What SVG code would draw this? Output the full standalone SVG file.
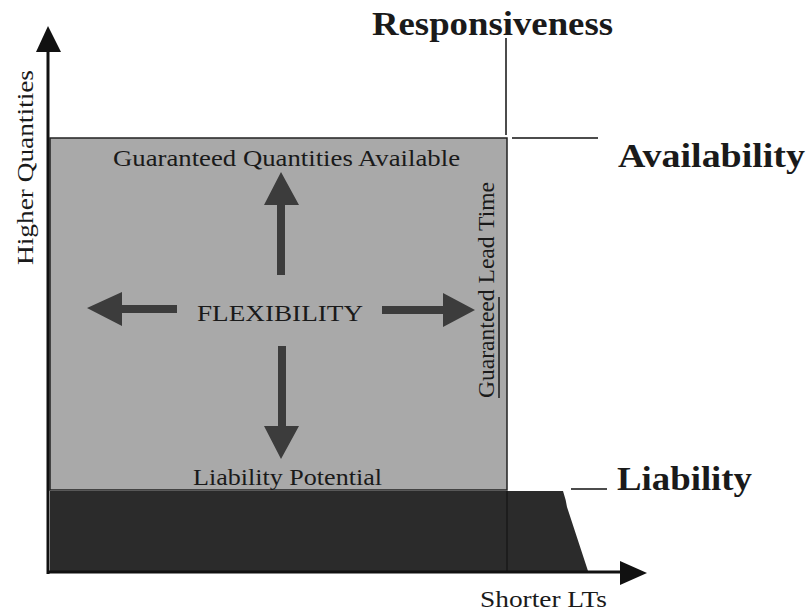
<svg xmlns="http://www.w3.org/2000/svg" width="809" height="613" viewBox="0 0 809 613">
<style>
.t{font-family:"Liberation Serif","Times New Roman",serif;fill:#1a1a1a}
.b{font-weight:bold;font-size:33px}
.r{font-size:24px}
.axis{stroke:#111;stroke-width:3;fill:none}
.thin{stroke:#111;stroke-width:1.5;fill:none}
.arr{fill:#3c3c3c}
</style>
<rect width="809" height="613" fill="#fff"/>
<g id="liability-region">
<path d="M50,491 L563,491 Q566,500 567,507 L588,571 L50,571 Z" fill="#2b2b2b"/>
<line x1="507" y1="491" x2="507" y2="571" stroke="#1a1a1a" stroke-width="1.5"/>
</g>
<g id="flexibility-region">
<rect x="50" y="138" width="457" height="352" fill="#a9a9a9" stroke="#222" stroke-width="1.5"/>
</g>
<g id="axes">
<line class="axis" x1="48" y1="50" x2="48" y2="574"/>
<polygon points="48,26 36,52 61,52" fill="#111"/>
<line class="axis" x1="47" y1="572" x2="622" y2="572"/>
<polygon points="647,573 620,561 620,585" fill="#111"/>
</g>
<g id="connectors">
<line class="thin" x1="506" y1="38" x2="506" y2="135"/>
<line class="thin" x1="512" y1="138" x2="598" y2="138"/>
<line class="thin" x1="571" y1="489" x2="607" y2="489"/>
<path class="arr" d="M277,275 L277,205 L264,205 L281,172 L299,205 L285,205 L285,275 Z"/>
<path class="arr" d="M278,346 L278,426 L264,426 L281,459 L299,426 L286,426 L286,346 Z"/>
<path class="arr" d="M177,305 L122,305 L122,292 L87,308 L122,326 L122,313 L177,313 Z"/>
<path class="arr" d="M382,306 L443,306 L443,293 L475,310 L443,327 L443,314 L382,314 Z"/>
</g>
<g id="responsiveness"><text class="t b" x="372" y="35" textLength="241" lengthAdjust="spacingAndGlyphs">Responsiveness</text></g>
<g id="availability"><text class="t b" x="618" y="167" textLength="187" lengthAdjust="spacingAndGlyphs">Availability</text></g>
<g id="liability"><text class="t b" x="617" y="490" textLength="135" lengthAdjust="spacingAndGlyphs">Liability</text></g>
<g id="guaranteed-quantities"><text class="t r" x="113" y="166" textLength="347" lengthAdjust="spacingAndGlyphs">Guaranteed Quantities Available</text></g>
<g id="flexibility"><text class="t r" x="197" y="321" textLength="166" lengthAdjust="spacingAndGlyphs">FLEXIBILITY</text></g>
<g id="liability-potential"><text class="t r" x="193" y="485" textLength="189" lengthAdjust="spacingAndGlyphs">Liability Potential</text></g>
<g id="shorter-lts"><text class="t r" x="480" y="607" textLength="127" lengthAdjust="spacingAndGlyphs">Shorter LTs</text></g>
<g id="higher-quantities"><text class="t r" transform="translate(33,265) rotate(-90)" x="0" y="0" textLength="195" lengthAdjust="spacingAndGlyphs">Higher Quantities</text></g>
<g id="guaranteed-lead-time">
<text class="t r" transform="translate(494,398) rotate(-90)" x="0" y="0" textLength="216" lengthAdjust="spacingAndGlyphs">Guaranteed Lead Time</text>
<line x1="499" y1="398" x2="499" y2="297" stroke="#1a1a1a" stroke-width="1.5"/>
</g>
</svg>
